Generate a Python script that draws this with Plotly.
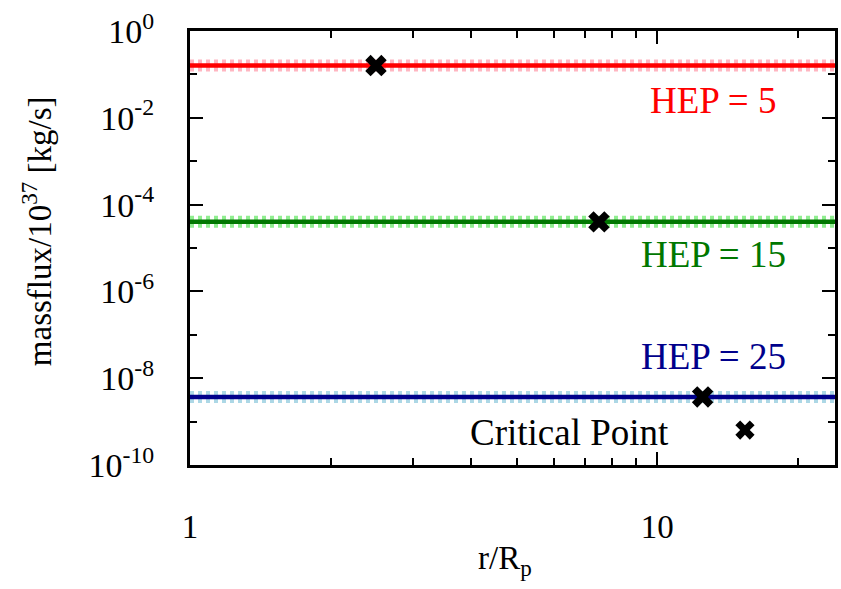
import plotly.graph_objects as go

# Radial extent of the solutions, in planetary radii
r_span = [1.0, 24.0]

# Constant mass flux (units of 1e37 kg/s) for each hydrodynamic escape parameter
hep_labels = ["HEP = 5", "HEP = 15", "HEP = 25"]
massflux_numeric = [0.16, 4.0e-5, 3.7e-9]
massflux_analytic = [0.16, 4.0e-5, 3.7e-9]

# Sonic (critical) point location of each solution
crit_r = [2.5, 7.5, 12.5]
crit_flux = [0.16, 4.0e-5, 3.7e-9]

# Legend key for the critical-point symbol
key_r = [15.4]
key_flux = [6.4e-10]

dark_colors = ["#ff0000", "#007700", "#00008b"]
light_colors = ["#ffb6c1", "#90ee90", "#add8e6"]

y_tickvals = [1e0, 1e-2, 1e-4, 1e-6, 1e-8, 1e-10]
y_ticktext = ["10<sup>0</sup>", "10<sup>-2</sup>", "10<sup>-4</sup>",
              "10<sup>-6</sup>", "10<sup>-8</sup>", "10<sup>-10</sup>"]
y_minor = [1e-1, 1e-3, 1e-5, 1e-7, 1e-9]
x_tickvals = [1, 10]
x_ticktext = ["1", "10"]
x_minor = [2, 3, 4, 5, 6, 7, 8, 9, 20]

SERIF = "'Times New Roman', 'Liberation Serif', 'DejaVu Serif', serif"

fig = go.Figure()

for i in range(3):
    fig.add_trace(go.Scatter(
        x=r_span, y=[massflux_analytic[i]] * 2, mode="lines",
        line=dict(color=light_colors[i], width=12, dash="4px,4px"),
        showlegend=False, hoverinfo="skip"))
    fig.add_trace(go.Scatter(
        x=r_span, y=[massflux_numeric[i]] * 2, mode="lines",
        line=dict(color=dark_colors[i], width=4.5),
        name=hep_labels[i], showlegend=False))

fig.add_trace(go.Scatter(
    x=crit_r, y=crit_flux, mode="markers",
    marker=dict(symbol="x", size=19, color="black", line=dict(width=0)),
    name="Critical Point", showlegend=False))
fig.add_trace(go.Scatter(
    x=key_r, y=key_flux, mode="markers",
    marker=dict(symbol="x", size=17, color="black", line=dict(width=0)),
    showlegend=False, hoverinfo="skip"))

label_pos = [(0.811, 0.841), (0.812, 0.484), (0.812, 0.249)]
annotations = []
for i in range(3):
    annotations.append(dict(
        x=label_pos[i][0], y=label_pos[i][1], xref="paper", yref="paper",
        text=hep_labels[i], showarrow=False, xanchor="center", yanchor="middle",
        font=dict(family=SERIF, size=37, color=dark_colors[i])))
annotations.append(dict(
    x=0.746, y=0.076, xref="paper", yref="paper", text="Critical Point",
    showarrow=False, xanchor="right", yanchor="middle",
    font=dict(family=SERIF, size=37, color="black")))
annotations.append(dict(
    x=-0.238, y=0.54, xref="paper", yref="paper",
    text="massflux/10<sup>37</sup> [kg/s]", textangle=-90, showarrow=False,
    xanchor="center", yanchor="middle",
    font=dict(family=SERIF, size=33, color="black")))
annotations.append(dict(
    x=0.488, y=-0.219, xref="paper", yref="paper",
    text="r/R<sub>p</sub>", showarrow=False, xanchor="center", yanchor="middle",
    font=dict(family=SERIF, size=33, color="black")))

fig.update_layout(
    width=841, height=589,
    margin=dict(l=190, r=3, t=31, b=124),
    paper_bgcolor="white", plot_bgcolor="white",
    font=dict(family=SERIF, size=33, color="black"),
    annotations=annotations,
    showlegend=False,
)

fig.update_xaxes(
    type="log", range=[0, 1.3802],
    showgrid=False, zeroline=False,
    showline=True, linecolor="black", linewidth=3, mirror="allticks",
    ticks="inside", ticklen=13, tickwidth=2, tickcolor="black",
    tickvals=x_tickvals, ticktext=x_ticktext,
    tickfont=dict(family=SERIF, size=33),
    ticklabelstandoff=30,
    minor=dict(tickvals=x_minor, ticks="inside", ticklen=7, tickwidth=2,
               tickcolor="black", showgrid=False),
)
fig.update_yaxes(
    type="log", range=[-10, 0],
    showgrid=False, zeroline=False,
    showline=True, linecolor="black", linewidth=3, mirror="allticks",
    ticks="inside", ticklen=13, tickwidth=2, tickcolor="black",
    tickvals=y_tickvals, ticktext=y_ticktext,
    tickfont=dict(family=SERIF, size=34),
    ticklabelstandoff=26,
    minor=dict(tickvals=y_minor, ticks="inside", ticklen=7, tickwidth=2,
               tickcolor="black", showgrid=False),
)

fig.write_html("out.html")
